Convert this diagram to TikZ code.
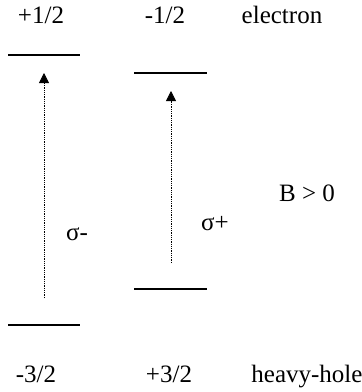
\documentclass[tikz,border=0pt]{standalone}
\usepackage{fontspec}
\setmainfont{Liberation Serif}
\usetikzlibrary{arrows.meta}

\begin{document}
\begin{tikzpicture}[x=1pt,y=-1pt,
    level/.style={line width=2.4pt},
    trans/.style={densely dotted,line width=0.8pt,-{Triangle[length=10pt,width=10pt]}},
    lbl/.style={anchor=base,inner sep=0pt,font=\fontsize{25}{29}\selectfont}]
    \useasboundingbox (0,0) rectangle (362,392);

    % Рівні: ліворуч -- для sigma-, праворуч -- для sigma+
    \coordinate (eL1) at (8,55);   \coordinate (eL2) at (80,55);
    \coordinate (eR1) at (134,73); \coordinate (eR2) at (207,73);
    \coordinate (hL1) at (8,325);  \coordinate (hL2) at (80,325);
    \coordinate (hR1) at (134,289); \coordinate (hR2) at (207,289);

    % Початки і кінці стрілок
    \coordinate (sL0) at (44,298); \coordinate (sL1) at (44,73);
    \coordinate (sR0) at (171,263); \coordinate (sR1) at (171,91);

    % Рівні
    \draw[level] (eL1) -- (eL2);
    \draw[level] (eR1) -- (eR2);
    \draw[level] (hL1) -- (hL2);
    \draw[level] (hR1) -- (hR2);

    % Переходи
    \draw[trans] (sL0) -- (sL1);
    \draw[trans] (sR0) -- (sR1);

    % Підписи
    \node[lbl] (tA) at (41,23) {+1/2};
    \node[lbl] (tB) at (165,23) {-1/2};
    \node[lbl] (tC) at (282,23) {electron};
    \node[lbl] (tD) at (36,382) {-3/2};
    \node[lbl] (tE) at (169,382) {+3/2};
    \node[lbl] (tF) at (307,382) {heavy-hole};
    \node[lbl] (tG) at (77,240) {σ-};
    \node[lbl] (tH) at (215,230) {σ+};
    \node[lbl] (tI) at (307,201) {B > 0};
\end{tikzpicture}
\end{document}
